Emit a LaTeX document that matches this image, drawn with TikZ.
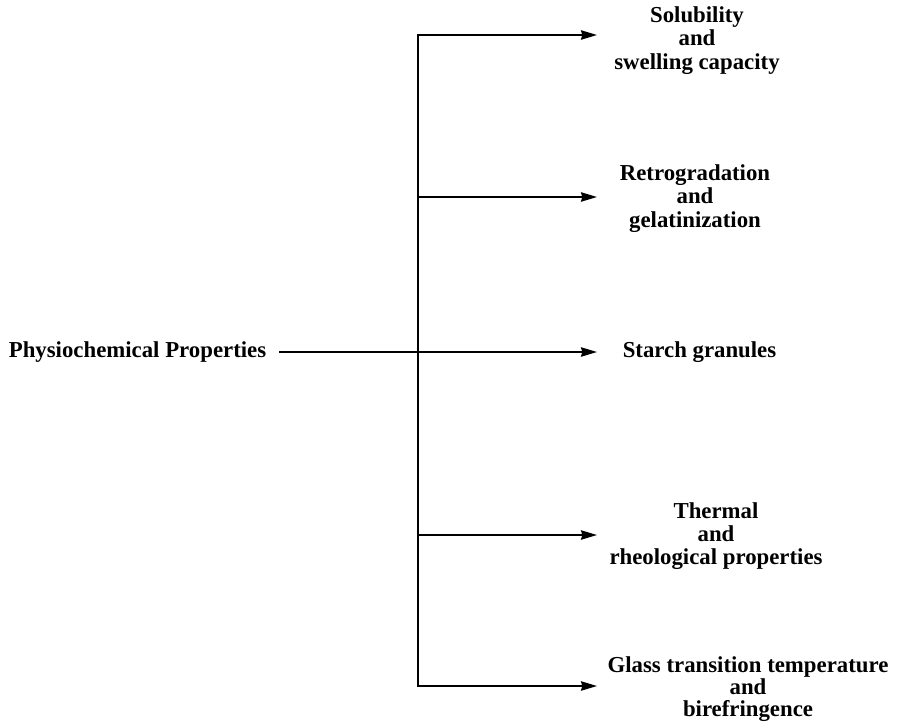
\documentclass[tikz,border=0pt]{standalone}
\usepackage{fontspec}
\setmainfont{Liberation Serif}
\usetikzlibrary{arrows.meta}

\begin{document}
\begin{tikzpicture}[x=0.75pt,y=0.75pt,yscale=-1,xscale=1,
  txt/.style={font=\bfseries\fontsize{17.1}{17.4}\selectfont, align=center, inner sep=0pt},
  branch/.style={line width=1.4pt, line cap=rect, -{Stealth[length=12pt,width=7pt,inset=1pt]}}]
\useasboundingbox (0,0) rectangle (903,724);

%Spine points
\coordinate (s1) at (418,35);
\coordinate (s2) at (418,197);
\coordinate (s4) at (418,535);
\coordinate (s5) at (418,686);
%Arrow ends
\coordinate (e1) at (597,35);
\coordinate (e2) at (597,197);
\coordinate (e3) at (597,352);
\coordinate (e4) at (597,535);
\coordinate (e5) at (597,686);

% Text Node
\node [txt, inner xsep=10.5pt] (phys) at (137.5,352) {Physiochemical Properties};
% Text Node
\node [txt] (sol) at (697,40.6) {Solubility\\and\\swelling capacity};
% Text Node
\node [txt] (retro) at (695,198.5) {Retrogradation\\and\\gelatinization};
% Text Node
\node [txt] (starch) at (699.5,352) {Starch granules};
% Text Node
\node [txt] (therm) at (716,536) {Thermal\\and\\rheological properties};
% Text Node
\node [txt, font=\bfseries\fontsize{17.1}{16.8}\selectfont] (glass) at (748,689) {Glass transition temperature\\and\\birefringence};

%Straight Lines
\draw [branch] (s5) -- (s1) -- (e1);
\draw [branch] (s2) -- (e2);
\draw [branch] (phys.east) -- (e3);
\draw [branch] (s4) -- (e4);
\draw [branch] (s5) -- (e5);

\end{tikzpicture}
\end{document}
